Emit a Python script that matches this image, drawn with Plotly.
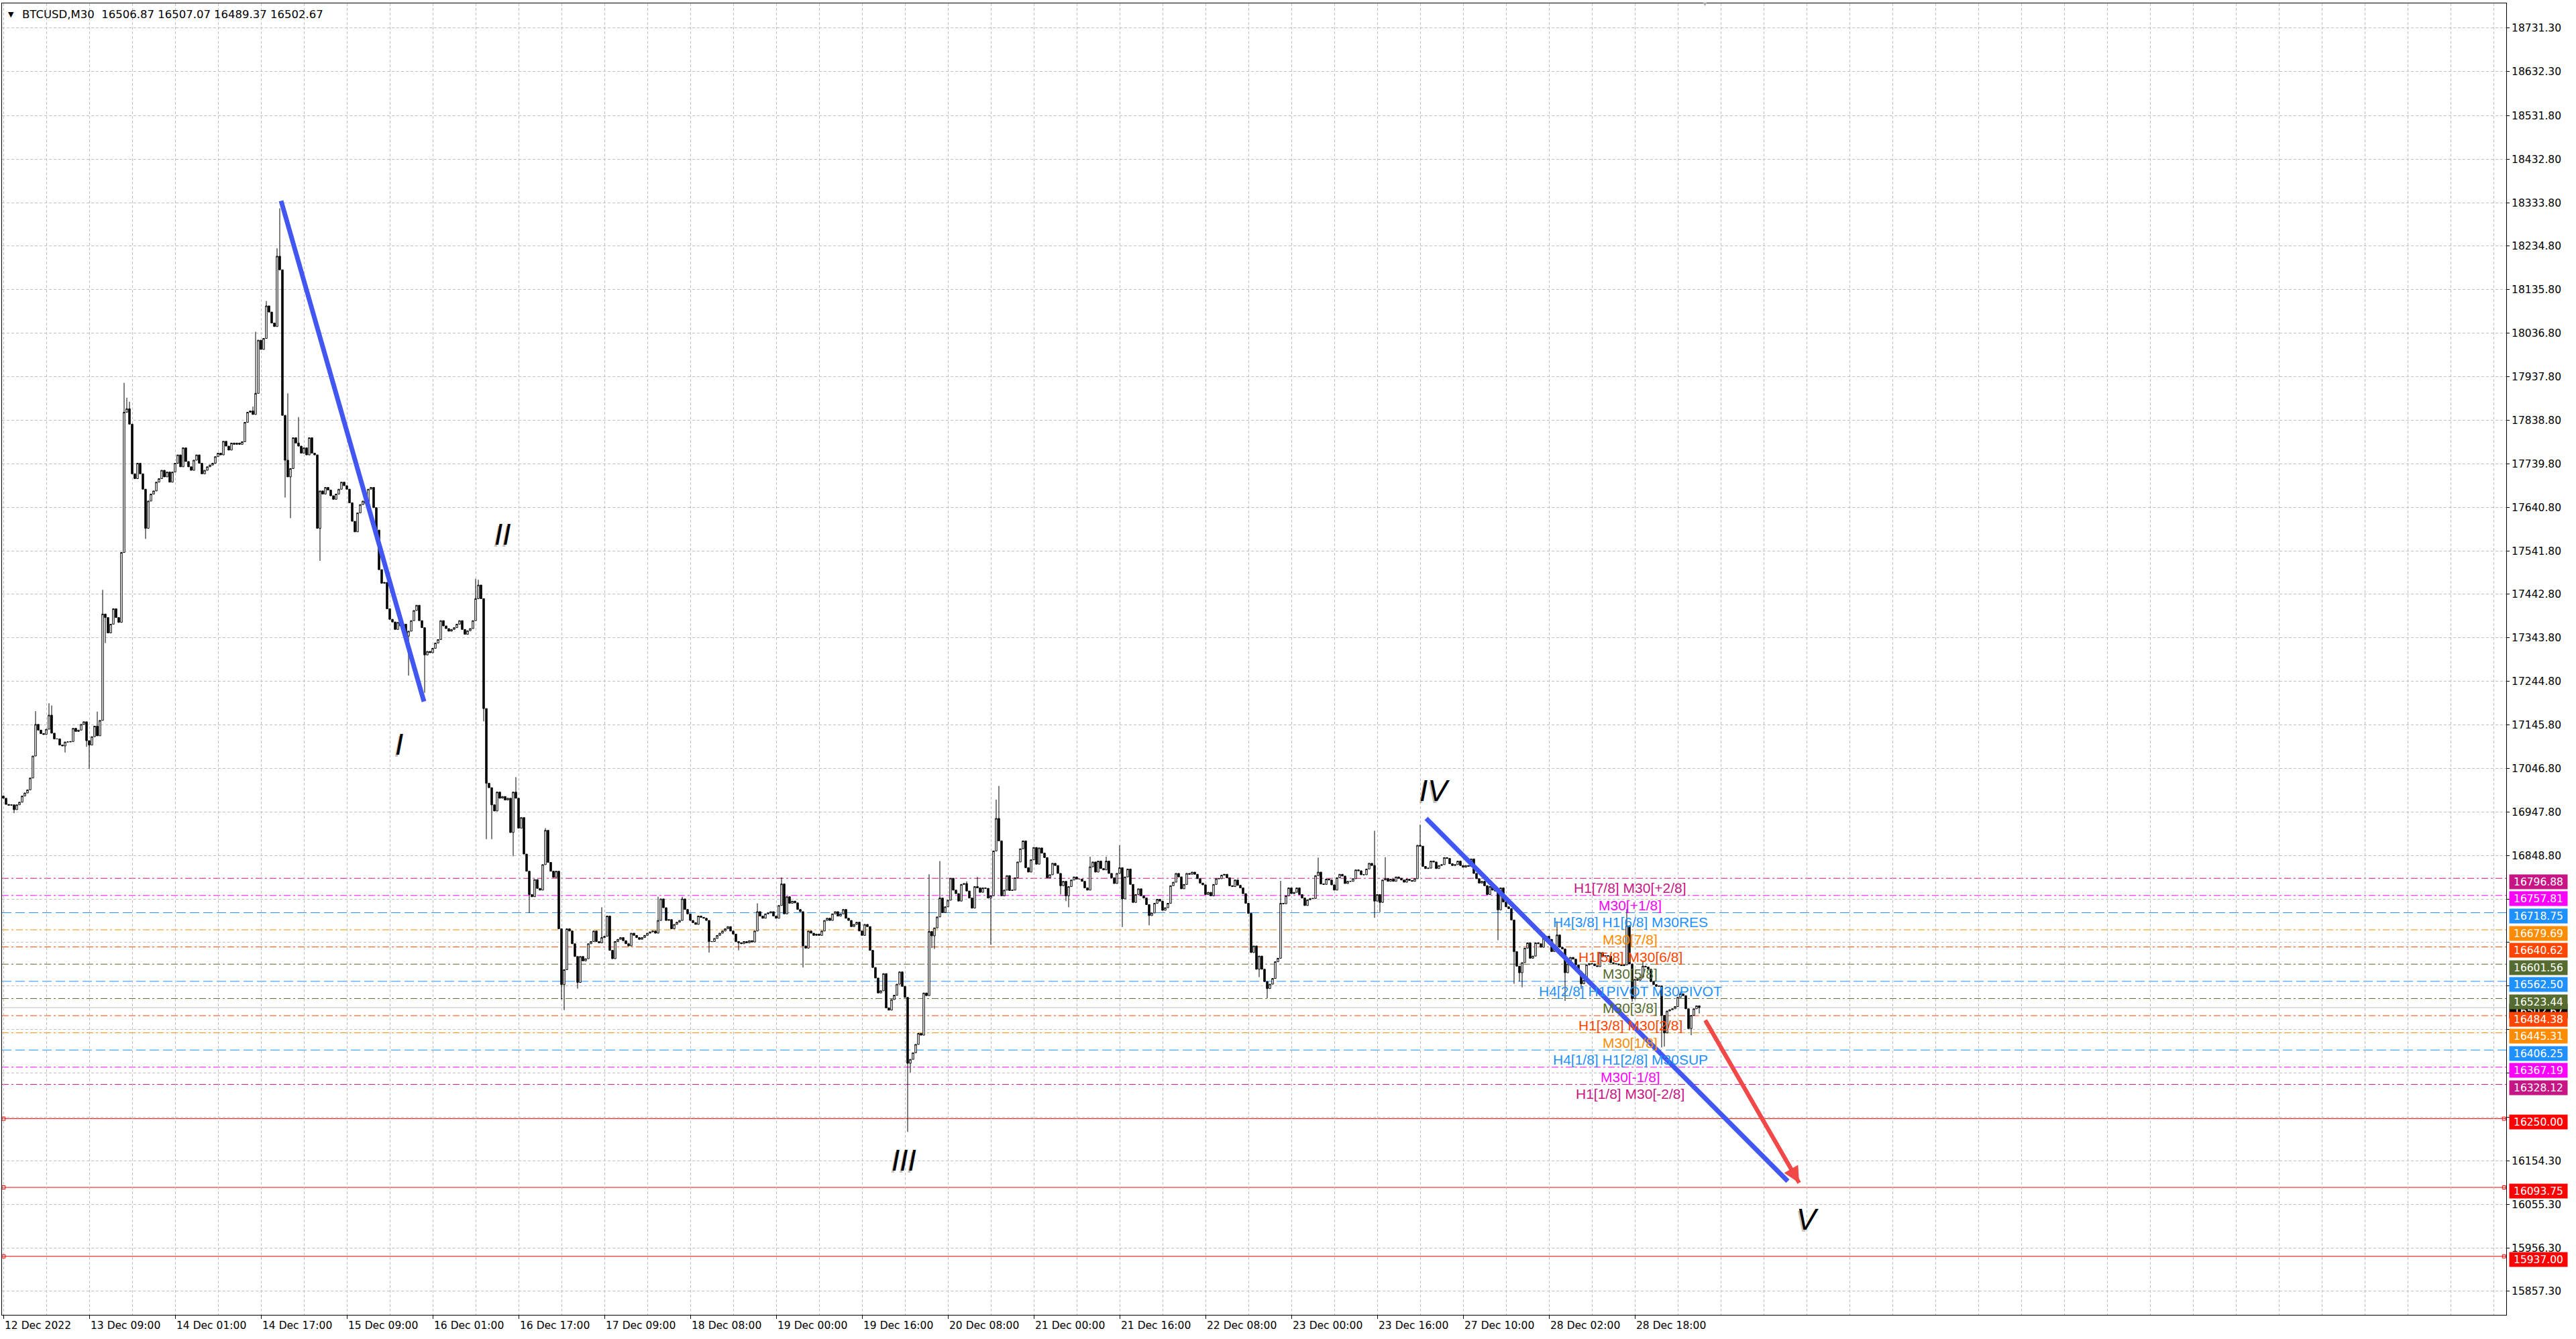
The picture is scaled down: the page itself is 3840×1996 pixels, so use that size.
import plotly.graph_objects as go

# ---------------- data ----------------
first_open = 16984.0

close = [
    # bars 0-36
    16979, 16965, 16963, 16964, 16953, 16964, 16970, 16984, 16991, 16998,
    17025, 17075, 17147, 17134, 17126, 17124, 17136, 17168, 17127, 17114,
    17114, 17100, 17098, 17107, 17107, 17108, 17138, 17131, 17134, 17147,
    17153, 17110, 17100, 17119, 17143, 17121, 17156,
    # bars 37-103
    17398, 17390, 17355, 17375, 17410, 17390, 17379, 17538, 17857, 17865,
    17830, 17717, 17706, 17741, 17717, 17682, 17593, 17655, 17671, 17678,
    17698, 17706, 17725, 17710, 17721, 17698, 17721, 17741, 17760, 17733,
    17776, 17745, 17733, 17725, 17748, 17760, 17741, 17717, 17725, 17733,
    17737, 17741, 17756, 17764, 17760, 17791, 17780, 17771, 17787, 17784,
    17787, 17784, 17790, 17834, 17857, 17860, 17852, 17900, 18021, 18000,
    18025, 18099, 18085, 18060, 18052, 18212, 18181,
    # bars 104-178
    17850, 17748, 17710, 17729, 17799, 17787, 17780, 17764, 17776, 17760,
    17799, 17764, 17760, 17593, 17678, 17671, 17686, 17680, 17667, 17659,
    17671, 17682, 17698, 17690, 17682, 17651, 17609, 17585, 17628, 17647,
    17655, 17650, 17682, 17686, 17640, 17589, 17499, 17468, 17470, 17410,
    17386, 17380, 17363, 17379, 17371, 17375, 17348, 17359, 17383, 17406,
    17418, 17383, 17367, 17305, 17313, 17310, 17320, 17332, 17340, 17383,
    17371, 17365, 17359, 17363, 17367, 17375, 17383, 17363, 17352, 17360,
    17365, 17383, 17433, 17464, 17433,
    # bars 179-345
    17183, 17013, 17003, 16964, 16950, 16993, 16979, 16983, 16975, 16979,
    16901, 16993, 16979, 16911, 16935, 16852, 16813, 16760, 16755, 16794,
    16774, 16770, 16828, 16906, 16833, 16813, 16799, 16813, 16682, 16555,
    16589, 16682, 16677, 16648, 16619, 16560, 16619, 16609, 16614, 16648,
    16653, 16677, 16653, 16650, 16662, 16665, 16711, 16633, 16614, 16653,
    16658, 16662, 16655, 16648, 16643, 16672, 16667, 16662, 16658, 16662,
    16667, 16672, 16675, 16677, 16672, 16701, 16750, 16730, 16701, 16703,
    16682, 16692, 16697, 16701, 16750, 16726, 16716, 16701, 16696, 16692,
    16711, 16708, 16706, 16701, 16653, 16653, 16660, 16667, 16672, 16677,
    16682, 16687, 16677, 16670, 16653, 16650, 16648, 16653, 16650, 16655,
    16652, 16677, 16721, 16711, 16706, 16716, 16718, 16721, 16711, 16706,
    16735, 16784, 16716, 16755, 16740, 16745, 16741, 16726, 16721, 16643,
    16638, 16677, 16672, 16667, 16670, 16667, 16677, 16701, 16706, 16701,
    16716, 16721, 16711, 16716, 16726, 16706, 16701, 16687, 16692, 16697,
    16677, 16667, 16692, 16687, 16633, 16594, 16570, 16536, 16541, 16580,
    16502, 16497, 16521, 16531, 16556, 16584, 16551, 16526, 16376, 16385,
    16400, 16419, 16444, 16440, 16536, 16530, 16676,
    # bars 346-503
    16666, 16684, 16709, 16752, 16719, 16732, 16747, 16797, 16770, 16762,
    16745, 16783, 16785, 16768, 16752, 16729, 16778, 16775, 16765, 16775,
    16774, 16752, 16757, 16859, 16933, 16882, 16757, 16770, 16803, 16769,
    16770, 16798, 16834, 16864, 16882, 16821, 16811, 16839, 16867, 16829,
    16866, 16854, 16844, 16798, 16805, 16831, 16826, 16808, 16780, 16790,
    16757, 16778, 16793, 16800, 16795, 16795, 16790, 16775, 16770, 16823,
    16834, 16811, 16836, 16819, 16816, 16836, 16808, 16798, 16785, 16808,
    16821, 16750, 16800, 16818, 16783, 16742, 16760, 16773, 16757, 16752,
    16737, 16712, 16718, 16740, 16749, 16745, 16724, 16730, 16740, 16780,
    16788, 16808, 16800, 16773, 16783, 16808, 16806, 16811, 16806, 16796,
    16786, 16782, 16760, 16765, 16757, 16783, 16796, 16796, 16804, 16806,
    16798, 16780, 16778, 16793, 16781, 16775, 16762, 16740, 16717, 16628,
    16643, 16590, 16620, 16590, 16562, 16546, 16556, 16569, 16607, 16615,
    16740, 16739, 16757, 16775, 16762, 16765, 16775, 16760, 16752, 16735,
    16748, 16751, 16751, 16803, 16811, 16784, 16783, 16795, 16793, 16782,
    16770, 16798, 16806, 16802, 16785, 16790, 16790, 16796,
    # bars 504-632
    16816, 16814, 16805, 16805, 16818, 16831, 16826, 16745, 16760, 16742,
    16793, 16796, 16790, 16795, 16790, 16800, 16797, 16793, 16788, 16795,
    16792, 16790, 16796, 16872, 16870, 16824, 16819, 16820, 16836, 16834,
    16819, 16826, 16828, 16844, 16842, 16830, 16826, 16828, 16836, 16826,
    16822, 16826, 16824, 16841, 16808, 16796, 16786, 16790, 16780, 16760,
    16778, 16770, 16768, 16725, 16775, 16743, 16732, 16728, 16702, 16630,
    16597, 16582, 16605, 16638, 16650, 16615, 16620, 16650, 16648, 16640,
    16660, 16665, 16658, 16630, 16635, 16668, 16640, 16636, 16582, 16602,
    16617, 16613, 16600, 16585, 16557, 16565, 16600, 16603, 16602, 16598,
    16596, 16628, 16620, 16621, 16620, 16605, 16603, 16602, 16600, 16598,
    16600, 16689, 16602, 16523, 16567, 16565, 16572, 16597, 16595, 16590,
    16562, 16555, 16551, 16552, 16485, 16445, 16495, 16498, 16500, 16505,
    16526, 16534, 16530, 16500, 16455, 16485, 16500, 16506.87, 16502.67,
]

wick_high = {12: 17177, 17: 17195, 18: 17190, 35: 17176, 37: 17453, 45: 17924,
             46: 17890, 47: 17881, 93: 17870, 94: 18040, 98: 18110, 102: 18230,
             103: 18321, 106: 17900, 110: 17846, 176: 17478, 177: 17476,
             191: 17027, 202: 16911, 223: 16731, 244: 16755, 253: 16755,
             281: 16740, 290: 16799, 345: 16806, 349: 16836, 359: 16790,
             363: 16800, 370: 16976, 371: 17007, 405: 16846, 411: 16846,
             416: 16872, 476: 16791, 490: 16844, 511: 16905, 515: 16845,
             528: 16919, 579: 16699, 605: 16727, 611: 16610, 625: 16539,
             632: 16507.07}

wick_low = {4: 16945, 23: 17083, 31: 17096, 32: 17046, 38: 17332, 53: 17569,
            105: 17663, 107: 17616, 118: 17519, 151: 17258, 157: 17219,
            179: 17154, 180: 16886, 182: 16886, 190: 16847, 196: 16718,
            208: 16521, 209: 16497, 214: 16546, 263: 16628, 274: 16633,
            298: 16594, 337: 16220, 338: 16355, 346: 16638, 347: 16636,
            368: 16646, 394: 16760, 396: 16745, 397: 16731, 417: 16686,
            427: 16690, 468: 16572, 471: 16524, 511: 16707, 513: 16720,
            557: 16656, 563: 16557, 565: 16562, 566: 16549, 582: 16518,
            588: 16545, 607: 16516, 618: 16412, 619: 16414, 629: 16440,
            632: 16489.37}

time_labels = ["12 Dec 2022", "13 Dec 09:00", "14 Dec 01:00", "14 Dec 17:00",
               "15 Dec 09:00", "16 Dec 01:00", "16 Dec 17:00", "17 Dec 09:00",
               "18 Dec 08:00", "19 Dec 00:00", "19 Dec 16:00", "20 Dec 08:00",
               "21 Dec 00:00", "21 Dec 16:00", "22 Dec 08:00", "23 Dec 00:00",
               "23 Dec 16:00", "27 Dec 10:00", "28 Dec 02:00", "28 Dec 18:00"]
bars_per_label = 32

price_ticks = [18731.30, 18632.30, 18531.80, 18432.80, 18333.80, 18234.80,
               18135.80, 18036.80, 17937.80, 17838.80, 17739.80, 17640.80,
               17541.80, 17442.80, 17343.80, 17244.80, 17145.80, 17046.80,
               16947.80, 16848.80, 16749.80, 16650.80, 16551.80, 16452.80,
               16353.30, 16253.30, 16154.30, 16055.30, 15956.30, 15857.30]
hidden_ticks = [16749.80, 16650.80, 16551.80, 16452.80, 16353.30, 16253.30]

murrey_levels = [16796.88, 16757.81, 16718.75, 16679.69, 16640.62, 16601.56,
                 16562.50, 16523.44, 16484.38, 16445.31, 16406.25, 16367.19,
                 16328.12]
murrey_names = ["H1[7/8] M30[+2/8]", "M30[+1/8]", "H4[3/8] H1[6/8] M30RES",
                "M30[7/8]", "H1[5/8] M30[6/8]", "M30[5/8]",
                "H4[2/8] H1PIVOT M30PIVOT", "M30[3/8]", "H1[3/8] M30[2/8]",
                "M30[1/8]", "H4[1/8] H1[2/8] M30SUP", "M30[-1/8]",
                "H1[1/8] M30[-2/8]"]
murrey_colors = ["#C71585", "#FF00FF", "#1E90FF", "#FF8C00", "#FF4500",
                 "#556B2F", "#1E90FF", "#556B2F", "#FF4500", "#FF8C00",
                 "#1E90FF", "#FF00FF", "#C71585"]
murrey_label_bar = 606.25

red_levels = [16250.00, 16093.75, 15937.00]
bid_price = 16502.67
header = "BTCUSD,M30\u00a0\u00a016506.87 16507.07 16489.37 16502.67"

trend1_x = [103.5, 156.75]
trend1_y = [18338.0, 17199.0]
trend2_x = [530.25, 665.0]
trend2_y = [16933.0, 16108.0]
arrow_x = [634.25, 669.25]
arrow_y = [16474.0, 16104.0]

wave_text = ["I", "II", "III", "IV", "V"]
wave_x = [147.5, 186.0, 335.5, 533.25, 672.25]
wave_y = [17101.0, 17580.0, 16156.0, 16997.0, 16022.0]

shift_marker_bar = 634.0

# ---------------- build ----------------
n = len(close)
bars = list(range(n))
opens = [first_open] + close[:-1]
opens[-1] = 16506.87
highs = [max(o, c) for o, c in zip(opens, close)]
lows = [min(o, c) for o, c in zip(opens, close)]
for k, v in wick_high.items():
    highs[k] = max(highs[k], v)
for k, v in wick_low.items():
    lows[k] = min(lows[k], v)

W, H = 3840, 1996
ML, MR, MT, MB = 3, 104, 5, 36
x_range = [-0.5, 932.75]
y_range = [15803.8, 18787.2]

GRID = "#C0C0C0"
GRIDDASH = "4px,3px"
DASHDOT = "10px,4px,3px,4px"
LONGDASH = "14px,6px"

fig = go.Figure()
fig.add_trace(go.Candlestick(
    x=bars, open=opens, high=highs, low=lows, close=close,
    increasing=dict(line=dict(color="black", width=1), fillcolor="white"),
    decreasing=dict(line=dict(color="black", width=1), fillcolor="black"),
    whiskerwidth=0, hoverinfo="skip", showlegend=False))

for xs, ys in [(trend1_x, trend1_y), (trend2_x, trend2_y)]:
    fig.add_trace(go.Scatter(x=xs, y=ys, mode="lines",
                             line=dict(color="#4257F2", width=7),
                             hoverinfo="skip", showlegend=False))

fig.add_trace(go.Scatter(x=arrow_x, y=arrow_y, mode="lines",
                         line=dict(color="#F24848", width=6),
                         hoverinfo="skip", showlegend=False))

# red level end squares
sq_x, sq_y = [], []
for lv in red_levels:
    sq_x += [x_range[0] + 0.6, x_range[1] - 0.8]
    sq_y += [lv, lv]
fig.add_trace(go.Scatter(x=sq_x, y=sq_y, mode="markers",
                         marker=dict(symbol="square-open", size=5,
                                     color="#FF0000", line=dict(width=1)),
                         hoverinfo="skip", showlegend=False, cliponaxis=False))

shapes = []
# bid line
shapes.append(dict(type="line", xref="paper", x0=0, x1=1, yref="y",
                   y0=bid_price, y1=bid_price, layer="between",
                   line=dict(color="#BEBEBE", width=1)))
for lv, col in zip(murrey_levels, murrey_colors):
    dash = LONGDASH if col == "#1E90FF" else DASHDOT
    shapes.append(dict(type="line", xref="paper", x0=0, x1=1, yref="y",
                       y0=lv, y1=lv, layer="between",
                       line=dict(color=col, width=1, dash=dash)))
for lv in red_levels:
    shapes.append(dict(type="line", xref="paper", x0=0, x1=1, yref="y",
                       y0=lv, y1=lv, layer="between",
                       line=dict(color="#FF0000", width=1)))

annotations = []
# Murrey labels
for lv, name, col in zip(murrey_levels, murrey_names, murrey_colors):
    annotations.append(dict(x=murrey_label_bar, y=lv, xref="x", yref="y",
                            text=name, showarrow=False, xanchor="center",
                            yanchor="top", yshift=-1,
                            font=dict(family="Liberation Sans, Arial", size=21,
                                      color=col)))

# wave labels (shadow + text)
for t, wx, wy in zip(wave_text, wave_x, wave_y):
    annotations.append(dict(x=wx, y=wy, xref="x", yref="y", text=t,
                            showarrow=False, xshift=-2, yshift=-3,
                            font=dict(family="Liberation Sans", size=44,
                                      color="rgba(120,120,120,0.45)",
                                      style="italic")))
    annotations.append(dict(x=wx, y=wy, xref="x", yref="y", text=t,
                            showarrow=False,
                            font=dict(family="Liberation Sans", size=44,
                                      color="black", style="italic")))

# red arrow head
annotations.append(dict(x=arrow_x[1], y=arrow_y[1], ax=arrow_x[0], ay=arrow_y[0],
                        xref="x", yref="y", axref="x", ayref="y", text="",
                        showarrow=True, arrowhead=2, arrowsize=0.8,
                        arrowwidth=6, arrowcolor="#F24848"))

# x-axis time labels
for i, lab in enumerate(time_labels):
    annotations.append(dict(x=i * bars_per_label, y=0, xref="x", yref="paper",
                            text=lab, showarrow=False, xanchor="left",
                            yanchor="top", xshift=0, yshift=-5,
                            font=dict(family="DejaVu Sans", size=15.5,
                                      color="black")))

# header
annotations.append(dict(x=0, y=1, xref="paper", yref="paper", text="\u25BC",
                        showarrow=False, xanchor="left", yanchor="middle",
                        xshift=7, yshift=-16,
                        font=dict(family="DejaVu Sans", size=11, color="black")))
annotations.append(dict(x=0, y=1, xref="paper", yref="paper", text=header,
                        showarrow=False, xanchor="left", yanchor="middle",
                        xshift=28, yshift=-16,
                        font=dict(family="DejaVu Sans", size=16.5,
                                  color="black")))

# chart shift marker
annotations.append(dict(x=shift_marker_bar, y=1, xref="x", yref="paper",
                        text="\u25BC", showarrow=False, yanchor="middle",
                        yshift=0, font=dict(size=9, color="#A8A8A8")))

# right-hand price boxes
box_font = dict(family="DejaVu Sans", size=15.5, color="white")
annotations.append(dict(x=1, y=bid_price, xref="paper", yref="y",
                        text=f"{bid_price:.2f}", showarrow=False,
                        xanchor="left", yanchor="middle", xshift=4, yshift=-5,
                        width=86, height=21, borderpad=0, bgcolor="#000000",
                        font=box_font))
for lv, col in zip(murrey_levels, murrey_colors):
    annotations.append(dict(x=1, y=lv, xref="paper", yref="y",
                            text=f"{lv:.2f}", showarrow=False, xanchor="left",
                            yanchor="middle", xshift=4, yshift=-5, width=86,
                            height=21, borderpad=0, bgcolor=col, font=box_font))
for lv in red_levels:
    annotations.append(dict(x=1, y=lv, xref="paper", yref="y",
                            text=f"{lv:.2f}", showarrow=False, xanchor="left",
                            yanchor="middle", xshift=4, yshift=-5, width=86,
                            height=21, borderpad=0, bgcolor="#FF0000",
                            font=box_font))

tick_text = ["" if v in hidden_ticks else f"{v:.2f}" for v in price_ticks]

fig.update_layout(
    width=W, height=H,
    margin=dict(l=ML, r=MR, t=MT, b=MB, pad=0),
    paper_bgcolor="white", plot_bgcolor="white",
    showlegend=False, hovermode=False, boxgap=0.12,
    shapes=shapes, annotations=annotations,
    xaxis=dict(
        range=x_range, type="linear", rangeslider=dict(visible=False),
        tickmode="array",
        tickvals=[i * bars_per_label for i in range(len(time_labels))],
        showticklabels=False, ticks="outside", ticklen=5, tickcolor="black",
        showgrid=True, gridcolor=GRID, griddash=GRIDDASH, gridwidth=1,
        minor=dict(tickmode="linear", tick0=0, dtick=bars_per_label // 2,
                   showgrid=True, gridcolor=GRID, griddash=GRIDDASH,
                   ticks=""),
        showline=True, linecolor="black", linewidth=1, mirror=True,
        zeroline=False, fixedrange=True),
    yaxis=dict(
        range=y_range, side="right", tickmode="array",
        tickvals=price_ticks, ticktext=tick_text,
        ticks="outside", ticklen=4, tickcolor="black",
        tickfont=dict(family="DejaVu Sans", size=15.5, color="black"),
        showgrid=True, gridcolor=GRID, griddash=GRIDDASH, gridwidth=1,
        showline=True, linecolor="black", linewidth=1, mirror=True,
        zeroline=False, fixedrange=True),
)

fig.write_html("out.html",
               config={"displayModeBar": False, "staticPlot": True},
               post_script="document.body.style.margin='0';"
                           "document.body.style.overflow='hidden';")
